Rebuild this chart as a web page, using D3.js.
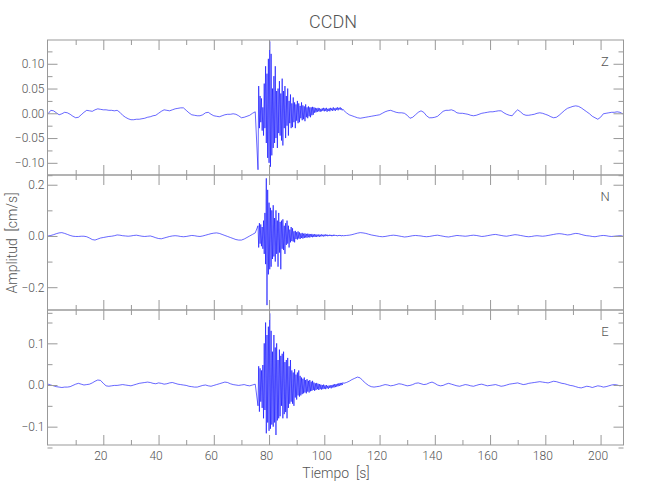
<!DOCTYPE html>
<html><head><meta charset="utf-8">
<script src="https://cdn.jsdelivr.net/npm/d3@7"></script>
<style>
body{margin:0;background:#fff}
svg text{font-family:Roboto,"DejaVu Sans Condensed",sans-serif;font-weight:300;fill:#555;white-space:pre}
</style>
</head><body>
<svg id="chart" width="650" height="500"></svg>
<script>
// ---- data (amplitudes in 0.001 cm/s) ----
const title = "CCDN";
const channels = ["Z", "N", "E"];
const xLabel = "Tiempo  [s]";
const yLabel = "Amplitud  [cm/s]";
const unit = 0.001;
const preStart = 0, burstStart = 76, postStart = 107;
const slowStep = 1, fastStep = 0.25;

const zPre = [-1,6,5,1,-3,-1,2,1,-2,-6, -9,-8,-3,2,6,5,4,7,9,8, 7,7,6,6,5,6,2,-4,-8,-11, -13,-13,-12,-12,-11,-10,-8,-7,-5,-4, 0,4,7,6,5,7,9,10,11,11, 6,1,-3,-4,-5,-5,-3,1,2,-2, -5,-6,-7,-5,-3,-2,-2,-1,-2,-5, -9,-8,-6,-4,0,3];
const zBurst = [-114,55,-30,35,-18,30,-35,12, -45,60,-30,95,-60,80,-90,110, -100,145,-108,120,-85,50,-70,75, -60,95,-50,45,-70,50,-40,65, -45,40,-55,70,-65,45,-30,55, -50,35,-25,50,-45,25,-20,38, -30,20,-28,32,-18,22,-30,18, -15,25,-20,20,-18,15,-10,22, -14,16,-12,14,-16,18,-8,12, -10,14,-6,12,-8,12,-4,13, -3,12,1,11,2,10,3,11, 4,10,3,9,4,10,5,11, 4,10,5,11,3,9,5,10, 4,11,6,10,5,12,6,10, 5,11,7,12,6,11,8,12, 7,10,6,8];
const zPost = [6,1,-3,-5,-7,-9,-10,-9,-8,-7, -6,-5,-4,-3,0,3,5,6,4,2, 1,1,0,-4,-10,-8,-3,2,5,2, -5,-9,-9,-8,-6,-1,4,6,6,7, 5,1,0,0,-1,-2,-4,-5,-4,-2, 0,1,2,3,3,4,5,5,1,-2, -4,-5,2,7,3,-2,-4,-4,-3,-2, 0,1,0,-2,-4,-7,-9,-8,-4,1, 6,10,12,14,15,14,11,7,3,-1, -6,-9,-12,-8,-1,0,1,2,2,3, 2,-1];

const nPre = [0,2,5,9,12,13,10,6,2,-1, -2,-2,-1,-1,-3,-8,-14,-16,-12,-8, -6,-4,-2,-1,1,4,3,1,0,-1, 0,2,3,1,-1,-2,-1,0,-3,-7, -10,-11,-8,-5,-2,0,1,0,-2,-3, -2,0,2,1,-1,-2,0,3,6,9, 11,12,10,6,2,-2,-6,-10,-14,-16, -16,-12,-6,0,6,12];
const nBurst = [40,-45,50,-30,45,-40,35,-50, 60,-70,90,-110,225,-270,180,-150, 130,-130,110,-120,100,-90,120,-80, 70,-100,100,-70,60,-120,90,-65, 55,-130,60,-50,65,-55,40,-70, 50,-35,60,-30,40,-45,25,-25, 35,-20,30,-22,18,-25,20,-12, 15,-14,18,-10,14,-12,10,-8, 12,-10,9,-8,10,-6,8,-7, 9,-5,8,-6,7,-4,8,-5, 6,-4,7,-3,6,-4,5,-2, 6,-3,5,-2,6,-1,5,-2, 5,-1,6,0,5,-1,4,0, 5,0,4,-1,4,0,5,1, 4,0,3,-1,3,0,4,0, 3,-1,3,0];
const nPost = [1,2,3,5,8,11,13,12,10,7, 4,2,0,-2,-3,-2,0,2,3,2, 0,-2,-4,-3,-1,1,2,1,0,-2, -3,-2,0,2,3,1,-1,-3,-4,-2, 0,2,1,0,-1,0,2,3,2,0, -2,-1,1,3,5,6,4,2,0,-1, 1,3,5,4,2,0,-2,-3,-2,0, 1,0,-1,0,2,4,6,8,9,8, 6,4,5,8,10,9,6,3,1,0, -2,-3,-1,1,2,1,-1,-2,-1,0, 1,0];

const ePre = [2,0,-2,-4,-5,-6,-5,-5,-4,-1, 2,4,2,0,1,2,5,9,12,11, 4,-2,-3,-2,-1,-1,0,1,0,-1, -2,0,2,4,5,6,7,6,4,3, 5,4,2,3,5,6,4,2,1,0, -1,-3,-4,-5,-5,-3,-1,0,-2,-3, -1,1,3,5,7,6,3,1,0,-1, 0,1,-1,-2,0,2];
const eBurst = [-50,45,-64,40,-40,35,-55,48, -80,100,-60,150,-116,120,-90,140, -110,172,-105,130,-95,80,-100,120, -90,90,-120,100,-85,60,-80,85, -75,70,-50,75,-80,80,-70,55, -65,60,-80,65,-55,45,-45,60, -40,35,-45,30,-50,38,-30,25, -35,30,-25,35,-28,22,-25,18, -22,15,-20,18,-18,12,-20,14, -16,10,-18,12,-15,8,-14,10, -12,6,-14,4,-12,5,-10,3, -12,2,-10,1,-11,0,-10,1, -9,-1,-10,0,-8,-2,-9,-1, -7,-1,-8,0,-6,1,-6,2, -5,2,-4,3,-3,4,-2,5, -1,5,0,6];
const ePost = [4,6,9,13,16,19,17,10,4,-1, -4,-5,-4,-3,-1,1,0,-2,-1,1, 3,2,0,-2,-1,1,4,5,3,1, 2,5,7,4,0,-2,-1,2,4,2, 0,-2,-3,-1,1,0,-2,-3,-1,1, 2,0,-2,-1,0,1,-1,-3,-2,0, 2,3,4,5,3,1,2,4,5,6, 7,8,7,6,5,7,9,8,6,4, 3,1,-1,-2,-4,-6,-7,-5,-3,-4, -6,-4,-2,-3,-5,-4,-2,0,1,0, -2,-1];

const xDomain = [-0.2, 208.3];
const yDomains = [[-0.1246, 0.148], [-0.289, 0.238], [-0.144, 0.18]];
const yMajorTicks = [[-0.10, -0.05, 0, 0.05, 0.10], [-0.2, 0, 0.2], [-0.1, 0, 0.1]];
const yMinorTicks = [[-0.125,-0.075,-0.025,0.025,0.075,0.125], [-0.3,-0.1,0.1], [-0.15,-0.05,0.05,0.15]];
const yTickFormats = [".2f", ".1f", ".1f"];
const xMajorTicks = [20, 40, 60, 80, 100, 120, 140, 160, 180, 200];
const xMinorTicks = [10, 30, 50, 70, 90, 110, 130, 150, 170, 190];

// ---- layout ----
const left = 47.5, right = 623.5;
const panelTops = [40, 175, 310];
const panelH = 135;
const svg = d3.select("#chart");

function buildSeries(pre, burst, post) {
  const pts = [];
  pre.forEach((v, i) => pts.push({t: preStart + i * slowStep, v: v * unit}));
  burst.forEach((v, i) => pts.push({t: burstStart + i * fastStep, v: v * unit}));
  post.forEach((v, i) => pts.push({t: postStart + i * slowStep, v: v * unit}));
  return pts;
}
const series = [buildSeries(zPre, zBurst, zPost), buildSeries(nPre, nBurst, nPost), buildSeries(ePre, eBurst, ePost)];

const x = d3.scaleLinear().domain(xDomain).range([left, right]);
const frame = "#999";

channels.forEach((ch, p) => {
  const top = panelTops[p], bottom = top + panelH;
  const y = d3.scaleLinear().domain(yDomains[p]).range([bottom, top]);
  const g = svg.append("g");

  svg.append("clipPath").attr("id", "clip" + p).append("rect")
    .attr("x", left).attr("y", top).attr("width", right - left).attr("height", panelH);

  g.append("path").datum(series[p])
    .attr("clip-path", "url(#clip" + p + ")")
    .attr("fill", "none").attr("stroke", "#0000ff").attr("stroke-width", 0.6)
    .attr("d", d3.line().x(d => x(d.t)).y(d => y(d.v)));

  const styleAxis = sel => { sel.select(".domain").remove(); sel.selectAll("line").attr("stroke", frame); };

  // left axis
  g.append("g").attr("transform", `translate(${left},0)`)
    .call(d3.axisLeft(y).tickValues(yMajorTicks[p]).tickSize(-10).tickPadding(3).tickFormat(d3.format(yTickFormats[p])))
    .call(styleAxis)
    .call(s => s.selectAll("text").attr("font-size", 12).attr("font-family", null).style("fill", "#555").text(d => d3.format(yTickFormats[p])(d).replace("-", "\u2212")));
  g.append("g").attr("transform", `translate(${left},0)`)
    .call(d3.axisLeft(y).tickValues(yMinorTicks[p]).tickSize(-5).tickFormat(""))
    .call(styleAxis);
  // right axis
  g.append("g").attr("transform", `translate(${right},0)`)
    .call(d3.axisRight(y).tickValues(yMajorTicks[p]).tickSize(-10).tickFormat(""))
    .call(styleAxis);
  g.append("g").attr("transform", `translate(${right},0)`)
    .call(d3.axisRight(y).tickValues(yMinorTicks[p]).tickSize(-5).tickFormat(""))
    .call(styleAxis);
  // top axis
  g.append("g").attr("transform", `translate(0,${top})`)
    .call(d3.axisTop(x).tickValues(xMajorTicks).tickSize(-10).tickFormat(""))
    .call(styleAxis);
  g.append("g").attr("transform", `translate(0,${top})`)
    .call(d3.axisTop(x).tickValues(xMinorTicks).tickSize(-5).tickFormat(""))
    .call(styleAxis);
  // bottom axis
  const bAxis = g.append("g").attr("transform", `translate(0,${bottom})`)
    .call(d3.axisBottom(x).tickValues(xMajorTicks).tickSize(-10).tickPadding(6).tickFormat(p === 2 ? d3.format("d") : ""))
    .call(styleAxis);
  bAxis.selectAll("text").attr("font-size", 12).attr("font-family", null).attr("dx", -3).style("fill", "#555");
  g.append("g").attr("transform", `translate(0,${bottom})`)
    .call(d3.axisBottom(x).tickValues(xMinorTicks).tickSize(-5).tickFormat(""))
    .call(styleAxis);

  g.append("rect").attr("x", left).attr("y", top).attr("width", right - left).attr("height", panelH)
    .attr("fill", "none").attr("stroke", frame).attr("stroke-width", 1);

  g.append("text").attr("x", 605).attr("y", top + 26).attr("text-anchor", "middle")
    .attr("font-size", 13).text(ch);
});

svg.append("text").attr("x", 333).attr("y", 28).attr("text-anchor", "middle")
  .attr("font-size", 18).text(title);
svg.append("text").attr("x", 336).attr("y", 478).attr("text-anchor", "middle")
  .attr("font-size", 14).text(xLabel);
svg.append("text").attr("transform", "translate(17,243) rotate(-90)").attr("text-anchor", "middle")
  .attr("font-size", 14).text(yLabel);
</script>
</body></html>
